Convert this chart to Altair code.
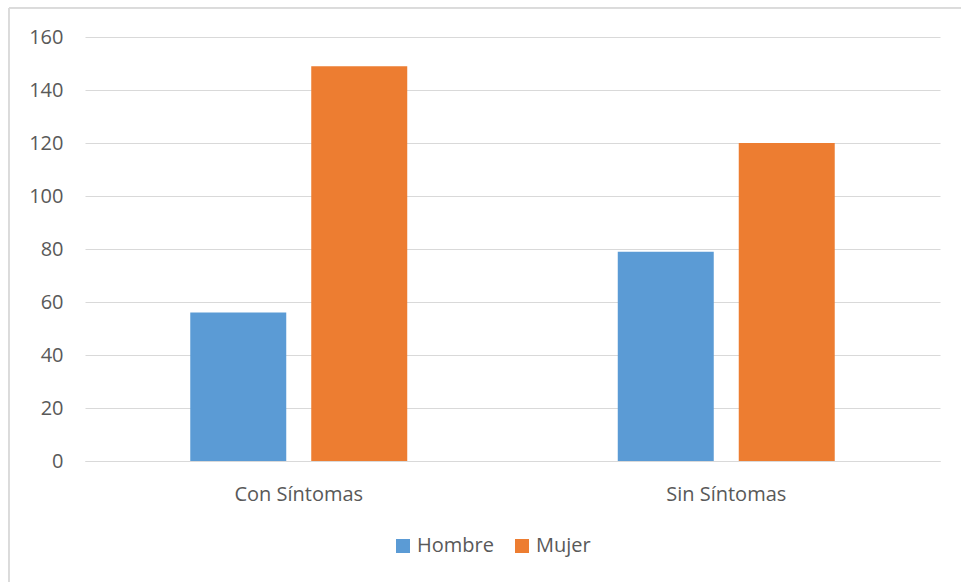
import altair as alt
import pandas as pd

categories = ["Con Síntomas", "Con Síntomas", "Sin Síntomas", "Sin Síntomas"]
sexes = ["Hombre", "Mujer", "Hombre", "Mujer"]
values = [56, 149, 79, 120]
y_ticks = [0, 20, 40, 60, 80, 100, 120, 140, 160]

df = pd.DataFrame({"cat": categories, "sexo": sexes, "n": values})

FONT = "Open Sans"
TEXT = "#595959"

bars = alt.Chart(df).mark_bar().encode(
    x=alt.X("cat:N", title=None, sort=["Con Síntomas", "Sin Síntomas"],
            scale=alt.Scale(paddingInner=0, paddingOuter=0),
            axis=alt.Axis(labelAngle=0, labelFont=FONT, labelFontSize=20, labelColor=TEXT,
                          ticks=False, domain=True, domainColor="#D9D9D9", domainWidth=1,
                          labelPadding=23, grid=False)),
    xOffset=alt.XOffset("sexo:N", sort=["Hombre", "Mujer"],
                        scale=alt.Scale(paddingInner=0.2066, paddingOuter=0.87)),
    y=alt.Y("n:Q", title=None,
            scale=alt.Scale(domain=[0, 160], nice=False),
            axis=alt.Axis(values=y_ticks, labelFont=FONT, labelFontSize=20, labelColor=TEXT,
                          ticks=False, domain=False, gridColor="#D9D9D9", gridWidth=1,
                          labelPadding=22)),
    color=alt.Color("sexo:N", sort=["Hombre", "Mujer"],
                    scale=alt.Scale(domain=["Hombre", "Mujer"], range=["#5B9BD5", "#ED7D31"]),
                    legend=alt.Legend(title=None, orient="none", legendX=308, legendY=499,
                                      direction="horizontal", symbolType="square",
                                      symbolSize=196, symbolStrokeWidth=0,
                                      labelFont=FONT, labelFontSize=20, labelColor=TEXT,
                                      labelOffset=4, columnPadding=18)),
)

left_border = alt.Chart(df).mark_rule(color="#D9D9D9", strokeWidth=1).encode(
    x=alt.value(-76), y=alt.value(-29), y2=alt.value(545)
)
top_border = alt.Chart(df).mark_rule(color="#D9D9D9", strokeWidth=1).encode(
    x=alt.value(-76), x2=alt.value(876), y=alt.value(-29)
)

chart = alt.layer(bars, left_border, top_border).properties(
    width=855, height=424,
    background="white",
    autosize=alt.AutoSizeParams(type="none"),
    padding={"left": 85, "top": 37, "right": 21, "bottom": 121},
).configure_view(strokeWidth=0, stroke="transparent")

chart.save("out.html", embed_options={"renderer": "svg", "actions": False})
